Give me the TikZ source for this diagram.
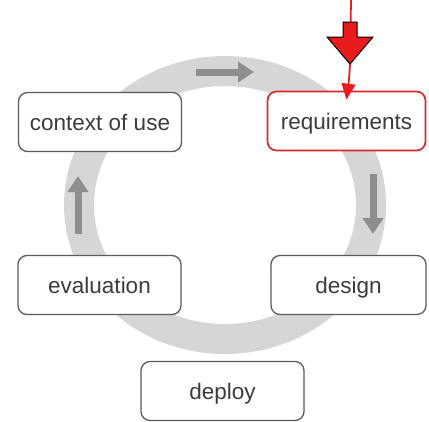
\documentclass[tikz,border=0pt]{standalone}
\usepackage{fontspec}
\setmainfont{Liberation Sans}
\usetikzlibrary{arrows.meta}
\definecolor{ringgray}{HTML}{D6D6D6}
\definecolor{flowgray}{HTML}{8E8E8E}
\definecolor{boxgray}{HTML}{5A5A5A}
\definecolor{textgray}{HTML}{3C3C3C}
\definecolor{reqred}{HTML}{D42A2A}
\definecolor{arrowred}{HTML}{E81C1C}
\begin{document}
\begin{tikzpicture}[x=1pt, y=-1pt,
        stage/.style={draw=boxgray, line width=1.3pt, rounded corners=9pt, fill=white,
            minimum width=163pt, minimum height=59pt, text=textgray,
            text height=17pt, text depth=0pt, font=\fontsize{22.5}{26}\selectfont},
        flow/.style={draw=flowgray, line width=7pt, -{Triangle[length=16pt, width=20pt]}},
        redline/.style={draw=arrowred, line width=1.8pt}]
    \useasboundingbox (0,0) rectangle (429,421);

    % the cycle
    \draw[ringgray, line width=30pt] (225,205) ellipse [x radius=146pt, y radius=134pt];
    \draw[flow] (196,72) -- (254,72);
    \draw[flow] (373,174) -- (373,234);
    \draw[flow] (78,234) -- (78,176);

    \node[stage] (context) at (100,122) {context of use};
    \node[stage, draw=reqred, line width=1.7pt, minimum width=158pt] (requirements) at (346.5,121) {requirements};
    \node[stage, minimum width=155pt] (design) at (348.5,285) {design};
    \node[stage] (deploy) at (222.5,391) {deploy};
    \node[stage] (evaluation) at (99.5,285) {evaluation};

    % entry point
    \coordinate (source) at (351,0);
    \coordinate (tip) at (350,64);
    \draw[redline] (source) -- (tip);
    \filldraw[fill=arrowred, draw=black, line width=1pt] (tip) -- ++(-23,-27) -- ++(16,0) -- ++(0,-15)
        -- ++(14,0) -- ++(0,15) -- ++(16,0) -- cycle;
    \draw[redline, -{Triangle[length=16pt, width=14pt]}] (tip) .. controls (349,80) .. ([yshift=-9pt]requirements.north);
\end{tikzpicture}
\end{document}
